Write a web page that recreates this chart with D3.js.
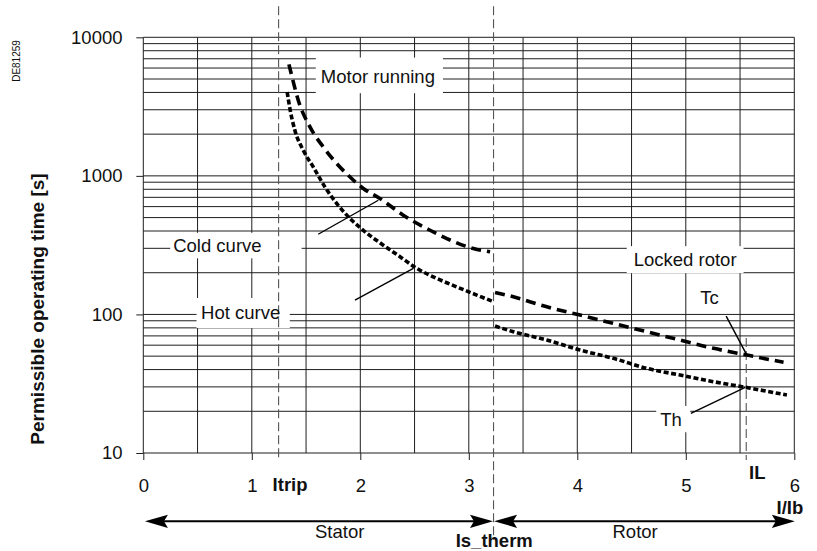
<!DOCTYPE html>
<html>
<head>
<meta charset="utf-8">
<script src="https://cdn.jsdelivr.net/npm/d3@7"></script>
<style>
  html, body { margin: 0; padding: 0; background: #fff; }
  svg { display: block; font-family: "Liberation Sans", Arial, Helvetica, sans-serif; }
</style>
</head>
<body>
<svg id="chart" width="817" height="551"></svg>
<script>
// Axis ticks
const currentTicks = [0, 1, 2, 3, 4, 5, 6];
const timeTicks = [10, 100, 1000, 10000];

// Characteristic currents (I/Ib)
const iTrip = 1.247;
const isTherm = 3.228;
const iLocked = 5.557;

// Cold curve, stator zone (I/Ib, time s)
const coldStatorI = [1.342, 1.367, 1.428, 1.536, 1.658, 1.797, 1.920, 2.027, 2.181, 2.396, 2.643, 2.797, 3.042, 3.196];
const coldStatorT = [6383, 5323, 3516, 2254, 1618, 1194, 957, 811, 687, 520, 405, 353, 299, 283];

// Hot curve, stator zone
const hotStatorI = [1.326, 1.351, 1.397, 1.474, 1.566, 1.674, 1.905, 2.027, 2.212, 2.366, 2.520, 2.704, 2.889, 3.073, 3.212];
const hotStatorT = [4028, 3062, 2133, 1531, 1161, 832, 493, 405, 316, 261, 215, 182, 158, 138, 125];

// Cold curve, rotor zone
const coldRotorI = [3.242, 3.411, 3.719, 4.026, 4.333, 4.641, 4.948, 5.256, 5.564, 5.901];
const coldRotorT = [144, 134, 113.5, 98.9, 86.1, 75.0, 65.3, 56.9, 50.9, 45.1];

// Hot curve, rotor zone
const hotRotorI = [3.242, 3.411, 3.719, 4.026, 4.333, 4.641, 4.948, 5.256, 5.548, 5.932];
const hotRotorT = [82.4, 75.0, 65.3, 55.3, 48.2, 40.8, 36.5, 32.7, 29.8, 26.2];

// Curve annotations: label text and anchor (I/Ib, time)
const labelText = ["Motor running", "Locked rotor", "Cold curve", "Hot curve", "Tc", "Th"];
const labelI = [2.162, 4.994, 0.683, 0.897, 5.219, 4.864];
const labelT = [5207, 249, 316, 103, 133, 17.5];

// Leader lines: from (I, t) to (I, t)
const leaderFromI = [1.612, 1.951, 5.372, 5.047];
const leaderFromT = [379, 127, 97.3, 19.3];
const leaderToI = [2.166, 2.489, 5.563, 5.548];
const leaderToT = [667, 215, 50.9, 29.8];

// ---- layout ----
const plotL = 143.3, plotR = 794.3, plotT = 37.3, plotB = 453;
const FS = 18.5;

const svg = d3.select("#chart");
const x = d3.scaleLinear().domain([0, 6]).range([plotL, plotR]);
const y = d3.scaleLog().domain([10, 10000]).range([plotB, plotT]);

const gridColor = "#1e1e1e";

// horizontal grid (log minor lines)
const gGrid = svg.append("g");
gGrid.selectAll("line.h").data(y.ticks()).join("line").attr("class", "h")
  .attr("x1", plotL).attr("x2", plotR)
  .attr("y1", d => y(d)).attr("y2", d => y(d))
  .attr("stroke", gridColor).attr("stroke-width", 1);

// vertical grid every 0.5
gGrid.selectAll("line.v").data(d3.range(0, 6.01, 0.5)).join("line").attr("class", "v")
  .attr("x1", d => x(d)).attr("x2", d => x(d))
  .attr("y1", plotT).attr("y2", plotB)
  .attr("stroke", gridColor).attr("stroke-width", 1);

// axes
const yAxis = d3.axisLeft(y).tickValues(timeTicks).tickFormat(d3.format("d"))
  .tickSize(7).tickPadding(13.8);
const gy = svg.append("g").attr("transform", `translate(${plotL},0)`).call(yAxis);

const xAxis = d3.axisBottom(x).tickValues(currentTicks).tickFormat(d3.format("d"))
  .tickSize(7).tickPadding(19.2);
const gx = svg.append("g").attr("transform", `translate(0,${plotB})`).call(xAxis);

[gx, gy].forEach(g => {
  g.select(".domain").remove();
  g.selectAll(".tick line").attr("stroke", gridColor).attr("stroke-width", 1);
  g.selectAll(".tick text").attr("fill", "#111").style("font-size", FS + "px")
    .style("font-family", '"Liberation Sans", Arial, sans-serif');
});

// white boxes behind curve annotations
const boxPad = [[5, 8, 8.6, 6], [7, 7, 3, 3], [3, 40, 2, 2.5], [4.5, 9.6, 4.3, 4.8], null, [4, 8.4, 3, 2.3]];
const gBoxes = svg.append("g");
const gLabels = svg.append("g");
labelText.forEach((txt, i) => {
  const t = gLabels.append("text")
    .attr("x", x(labelI[i]))
    .attr("y", y(labelT[i]) + 0.358 * FS)
    .attr("text-anchor", "middle")
    .attr("fill", "#111")
    .style("font-size", FS + "px")
    .text(txt);
  const p = boxPad[i];
  if (p) {
    const b = t.node().getBBox();
    gBoxes.append("rect")
      .attr("x", b.x - p[0]).attr("y", b.y - p[2])
      .attr("width", b.width + p[0] + p[1]).attr("height", b.height + p[2] + p[3])
      .attr("fill", "#fff");
  }
});

// characteristic current markers (dashed verticals)
const gMarks = svg.append("g");
const dashStyle = sel => sel.attr("stroke", "#555").attr("stroke-width", 1.1).attr("stroke-dasharray", "9,4");
gMarks.append("line").call(dashStyle)
  .attr("x1", x(iTrip)).attr("x2", x(iTrip)).attr("y1", plotT - 31).attr("y2", plotB + 7);
gMarks.append("line").call(dashStyle)
  .attr("x1", x(isTherm)).attr("x2", x(isTherm)).attr("y1", plotT - 31).attr("y2", plotB + 87);
gMarks.append("line").call(dashStyle)
  .attr("x1", x(iLocked)).attr("x2", x(iLocked)).attr("y1", y(67.5)).attr("y2", plotB + 7);

// curves
const line = d3.line().x(d => x(d[0])).y(d => y(d[1])).curve(d3.curveMonotoneX);
const zip = (a, b) => a.map((v, i) => [v, b[i]]);
const gCurves = svg.append("g").attr("fill", "none").attr("stroke", "#000");
gCurves.append("path").attr("d", line(zip(coldStatorI, coldStatorT)))
  .attr("stroke-width", 3.6).attr("stroke-dasharray", "10,6");
gCurves.append("path").attr("d", line(zip(coldRotorI, coldRotorT)))
  .attr("stroke-width", 3.6).attr("stroke-dasharray", "10,6");
gCurves.append("path").attr("d", line(zip(hotStatorI, hotStatorT)))
  .attr("stroke-width", 3.6).attr("stroke-dasharray", "5,2.6");
gCurves.append("path").attr("d", line(zip(hotRotorI, hotRotorT)))
  .attr("stroke-width", 3.6).attr("stroke-dasharray", "5,2.6");

// leader lines
svg.append("g").selectAll("line").data(leaderFromI).join("line")
  .attr("x1", (d, i) => x(leaderFromI[i])).attr("y1", (d, i) => y(leaderFromT[i]))
  .attr("x2", (d, i) => x(leaderToI[i])).attr("y2", (d, i) => y(leaderToT[i]))
  .attr("stroke", "#000").attr("stroke-width", 1.4);

// bring labels above boxes
gLabels.raise();

// bold axis annotations
const bold = (tx, ty, txt, anchor) => svg.append("text")
  .attr("x", tx).attr("y", ty).attr("text-anchor", anchor)
  .attr("font-weight", "bold").attr("fill", "#111")
  .style("font-size", FS + "px").text(txt);
bold(x(iTrip) - 6, 490.7, "Itrip", "start");
bold(x(iLocked) + 2.8, 479.3, "IL", "start");
bold(x(6) + 9, 513.5, "I/Ib", "end");
bold(x(isTherm) + 0.7, 546.7, "Is_therm", "middle");

// zone arrows
const arrowY = plotB + 68.3;
function arrowHead(tipX, dir) {
  const L = 23, hw = 6.6, notch = 19;
  const p = d3.path();
  p.moveTo(tipX, arrowY);
  p.lineTo(tipX + dir * L, arrowY - hw);
  p.lineTo(tipX + dir * notch, arrowY);
  p.lineTo(tipX + dir * L, arrowY + hw);
  p.closePath();
  svg.append("path").attr("d", p.toString()).attr("fill", "#000");
}
function zoneArrow(i0, i1) {
  const x0 = x(i0), x1 = x(i1);
  svg.append("line").attr("x1", x0 + 10).attr("x2", x1 - 10)
    .attr("y1", arrowY).attr("y2", arrowY).attr("stroke", "#000").attr("stroke-width", 2);
  arrowHead(x0, 1);
  arrowHead(x1, -1);
}
zoneArrow(0.015, isTherm - 0.005);
zoneArrow(isTherm + 0.005, 6.005);

svg.append("text").attr("x", x(1.81)).attr("y", 538.3).attr("text-anchor", "middle")
  .attr("fill", "#111").style("font-size", FS + "px").text("Stator");
svg.append("text").attr("x", x(4.533)).attr("y", 538.3).attr("text-anchor", "middle")
  .attr("fill", "#111").style("font-size", FS + "px").text("Rotor");

// y-axis title
svg.append("text")
  .attr("transform", "translate(44,309) rotate(-90)")
  .attr("text-anchor", "middle").attr("font-weight", "bold").attr("fill", "#111")
  .style("font-size", "19px").text("Permissible operating time [s]");

// drawing reference
svg.append("text")
  .attr("transform", "translate(20,61) rotate(-90)")
  .attr("text-anchor", "middle").attr("fill", "#111")
  .style("font-size", "10px").text("DE81259");
</script>
</body>
</html>
